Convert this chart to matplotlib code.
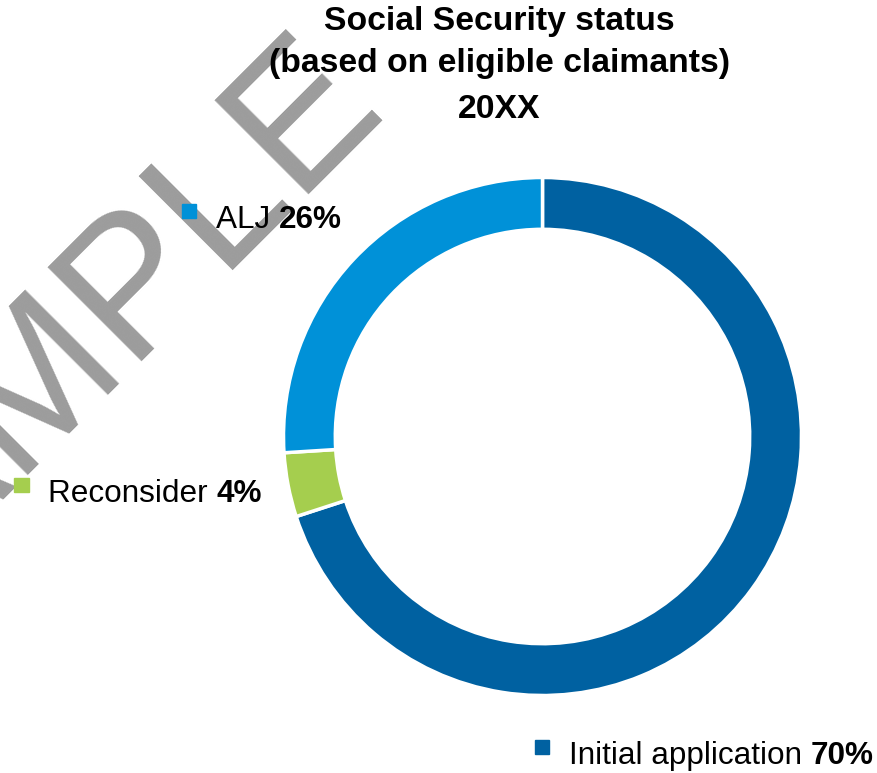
import matplotlib
matplotlib.use("Agg")
import matplotlib.pyplot as plt

plt.rcParams["font.family"] = ["Liberation Sans", "DejaVu Sans"]

W, H = 877, 773
categories = ["Initial application", "Reconsider", "ALJ"]
shares = [70, 4, 26]
colors = ["#0061a1", "#a5ce4e", "#0091d8"]
title_lines = ["Social Security status", "(based on eligible claimants)", "20XX"]

# label anchors: square marker centre (px from top-left)
label_pos = {"Initial application": (542, 747), "Reconsider": (21.5, 485), "ALJ": (189, 211)}


def fx(x):
    return x / W


def fy(y):
    return 1 - y / H


fig = plt.figure(figsize=(W / 100, H / 100), dpi=100)

# donut
cx, cy, R = 542.5, 436.5, 259
ax = fig.add_axes([fx(cx - R), fy(cy + R), 2 * R / W, 2 * R / H])
ax.pie(shares, colors=colors, startangle=90, counterclock=False, radius=1,
       wedgeprops=dict(width=0.2, edgecolor="white", linewidth=2.5))
ax.set_xlim(-1, 1); ax.set_ylim(-1, 1)
ax.set_axis_off()

# watermark
fig.text(fx(-167), fy(662), "SAMPLE", fontsize=139, color="#9c9c9c", rotation=45,
         rotation_mode="anchor", ha="left", va="baseline", zorder=1)

# title
for line, yb in zip(title_lines, [30, 72, 118]):
    fig.text(fx(499), fy(yb), line, fontsize=24.3, fontweight="bold", ha="center",
             va="baseline", zorder=3)

# labels: square marker, name, bold share
fig.canvas.draw()
r = fig.canvas.get_renderer()
for name, val, col in zip(categories, shares, colors):
    mx, my = label_pos[name]
    s = 14
    fig.patches.append(plt.Rectangle((fx(mx - s / 2), fy(my + s / 2)), s / W, s / H,
                                     transform=fig.transFigure, color=col, zorder=3))
    t = fig.text(fx(mx + 27), fy(my + 17), name + " ", fontsize=22.7, ha="left",
                 va="baseline", zorder=3)
    bb = t.get_window_extent(r)
    fig.text(bb.x1 / W, fy(my + 17), f"{val}%", fontsize=22.7, fontweight="bold",
             ha="left", va="baseline", zorder=3)

fig.savefig("out.png", dpi=100)
